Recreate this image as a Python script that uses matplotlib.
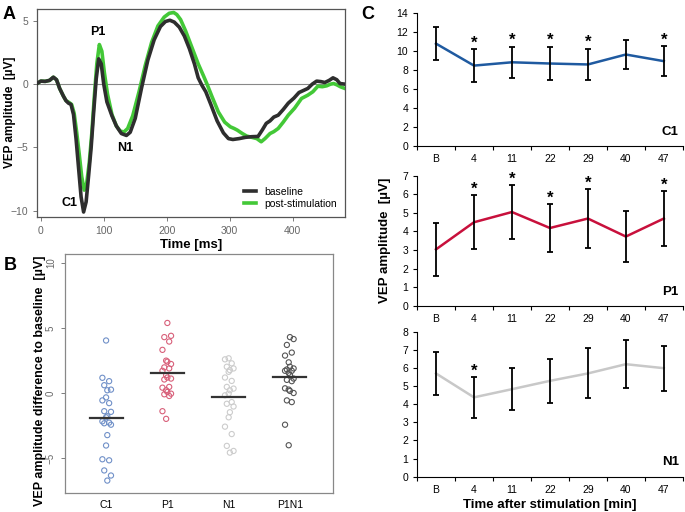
import numpy as np
import matplotlib
matplotlib.use('Agg')
import matplotlib.pyplot as plt

plt.rcParams['font.family'] = ['Liberation Sans', 'DejaVu Sans']

# panel A - grand average traces
base_t = [-6, 0, 7, 14, 20, 25, 30, 36, 40, 44, 48, 52, 56, 60, 64, 68, 72, 76, 80, 84, 88, 92, 96,
          100, 105, 113, 120, 128, 136, 142, 150, 160, 170, 180, 190, 198, 205, 212, 220, 228, 236,
          244, 250, 256, 262, 270, 280, 290, 298, 305, 315, 325, 335, 345, 352, 358, 364, 370, 377,
          385, 393, 402, 410, 417, 424, 431, 438, 445, 451, 458, 464, 470, 475, 483]
base_v = [0.05, 0.24, 0.22, 0.3, 0.55, 0.35, -0.34, -0.95, -1.3, -1.5, -1.6, -2.4, -4.3, -6.6, -8.9,
          -10.1, -9.3, -7.2, -5.0, -2.2, 0.4, 2.0, 1.6, 0.0, -1.4, -2.5, -3.3, -3.9, -4.05, -3.8,
          -2.7, -0.3, 1.9, 3.5, 4.55, 4.95, 5.05, 4.9, 4.5, 3.8, 2.8, 1.6, 0.5, -0.1, -0.6, -1.6,
          -2.9, -3.85, -4.3, -4.37, -4.3, -4.2, -4.15, -4.13, -3.6, -3.1, -2.9, -2.6, -2.45, -2.0,
          -1.5, -1.1, -0.66, -0.5, -0.34, 0.0, 0.24, 0.2, 0.13, 0.3, 0.5, 0.35, 0.05, 0.0]
post_t = [-6, 0, 7, 14, 20, 25, 30, 36, 40, 45, 49, 53, 57, 61, 65, 69, 73, 77, 81, 85, 89, 93, 97,
          101, 106, 113, 120, 126, 132, 138, 146, 156, 166, 176, 186, 196, 204, 211, 216, 222, 230,
          240, 250, 258, 264, 272, 282, 292, 301, 307, 312, 320, 327, 335, 343, 350, 356, 364, 370,
          377, 385, 393, 403, 414, 424, 432, 440, 447, 454, 460, 465, 470, 476, 483]
post_v = [0.05, 0.24, 0.22, 0.3, 0.55, 0.35, -0.34, -0.95, -1.3, -1.45, -1.6, -2.3, -3.8, -5.5, -7.3,
          -8.37, -7.8, -6.2, -3.9, -1.0, 1.6, 3.13, 2.6, 0.9, -0.8, -2.4, -3.3, -3.7, -3.78, -3.5,
          -2.5, -0.6, 1.5, 3.3, 4.6, 5.3, 5.6, 5.66, 5.5, 5.1, 4.2, 2.9, 1.6, 0.7, 0.0, -1.0, -2.2,
          -3.0, -3.37, -3.5, -3.63, -3.9, -4.1, -4.2, -4.3, -4.55, -4.3, -3.9, -3.75, -3.5, -3.0,
          -2.45, -1.9, -1.13, -0.87, -0.6, -0.16, -0.2, -0.13, 0.0, 0.05, -0.05, -0.21, -0.34]

# panel B - change from baseline per subject
comp_names = ['C1', 'P1', 'N1', 'P1N1']
diff_c1 = [4.04, 1.17, 0.91, 0.60, 0.26, 0.21, -0.34, -0.57, -0.78, -1.40, -1.45, -1.79, -1.87,
           -2.18, -2.28, -2.33, -2.44, -3.24, -4.04, -5.10, -5.18, -5.96, -6.35, -6.74]
diff_p1 = [5.39, 4.40, 4.30, 3.96, 3.32, 2.49, 2.41, 2.23, 1.97, 1.89, 1.71, 1.37, 1.19, 1.11,
           1.04, 0.47, 0.41, 0.21, 0.08, -0.05, -0.10, -0.23, -1.40, -1.99]
diff_n1 = [2.67, 2.59, 2.28, 2.02, 1.89, 1.76, 1.63, 1.19, 0.93, 0.47, 0.34, 0.21, -0.05, -0.18,
           -0.70, -0.83, -1.04, -1.48, -1.87, -2.59, -3.16, -4.07, -4.46, -4.59]
diff_p1n1 = [4.30, 4.15, 3.70, 3.11, 2.88, 2.36, 2.02, 1.89, 1.81, 1.71, 1.71, 1.55, 1.37, 1.11,
             1.01, 0.91, 0.36, 0.26, 0.16, 0.00, -0.57, -0.70, -2.44, -4.02]

# panel C - time course (mean, sd)
time_labels = ['B', '4', '11', '22', '29', '40', '47']
c1_mean = [10.8, 8.48, 8.83, 8.7, 8.6, 9.65, 8.95]
c1_err = [1.78, 1.72, 1.64, 1.76, 1.67, 1.58, 1.55]
c1_sig = [False, True, True, True, True, False, True]
p1_mean = [3.03, 4.49, 5.04, 4.18, 4.69, 3.72, 4.69]
p1_err = [1.44, 1.45, 1.43, 1.29, 1.57, 1.39, 1.47]
p1_sig = [False, True, True, True, True, False, True]
n1_mean = [5.7, 4.38, 4.83, 5.29, 5.7, 6.21, 5.99]
n1_err = [1.2, 1.13, 1.15, 1.2, 1.38, 1.31, 1.24]
n1_sig = [False, True, False, False, False, False, False]

GREEN = '#43c837'
DARK = '#2e2e2e'

fig = plt.figure(figsize=(6.85, 5.12), dpi=100)

# ---------- A ----------
axA = fig.add_axes([0.054, 0.576, 0.4496, 0.406])
axA.axhline(0, color='#888888', lw=0.8, zorder=1)
axA.plot(base_t, base_v, color=DARK, lw=2.6, label='baseline', solid_joinstyle='round', zorder=3)
axA.plot(post_t, post_v, color=GREEN, lw=2.6, label='post-stimulation', solid_joinstyle='round', zorder=2)
axA.set_xlim(-6, 483)
axA.set_ylim(-10.5, 5.92)
axA.set_xticks([0, 100, 200, 300, 400])
axA.set_yticks([-10, -5, 0, 5])
axA.tick_params(labelsize=7.5, colors='#666666', length=3, width=0.6)
for s in axA.spines.values():
    s.set_color('#555555')
    s.set_linewidth(0.9)
axA.set_xlabel('Time [ms]', fontsize=9.5, fontweight='bold', labelpad=2)
fig.text(0.014, 0.78, 'VEP amplitude  [µV]', fontsize=8.5, fontweight='bold',
         rotation=90, ha='center', va='center')
axA.text(91, 4.1, 'P1', fontsize=9, fontweight='bold', ha='center', va='center')
axA.text(46, -9.4, 'C1', fontsize=9, fontweight='bold', ha='center', va='center')
axA.text(134, -5.05, 'N1', fontsize=9, fontweight='bold', ha='center', va='center')
axA.legend(loc='lower right', bbox_to_anchor=(1.0, 0.0), frameon=False, fontsize=7.5,
           handlelength=1.1, handletextpad=0.8, labelspacing=0.2, borderaxespad=0.4)
fig.text(0.004, 0.972, 'A', fontsize=13, fontweight='bold', va='center')

# ---------- B ----------
axB = fig.add_axes([0.0949, 0.037, 0.391, 0.467])
b_colors = ['#7090c8', '#d8607a', '#cccccc', '#555555']
b_data = [diff_c1, diff_p1, diff_n1, diff_p1n1]
jit = np.tile([0.0, -0.06, 0.05, -0.03, 0.08, 0.02], 4)
for i, (vals, col) in enumerate(zip(b_data, b_colors)):
    xs = np.full(len(vals), i + 1.0) + jit[:len(vals)] * (1 if i % 2 == 0 else -1)
    axB.scatter(xs, vals, s=14, facecolors='none', edgecolors=col, linewidths=0.8, zorder=2)
    m = np.mean(vals)
    axB.plot([i + 1 - 0.27, i + 1 + 0.27], [m, m], color='#333333', lw=1.6, zorder=3)
axB.set_xlim(0.33, 4.7)
axB.set_ylim(-7.7, 10.7)
axB.set_xticks([1, 2, 3, 4])
axB.set_xticklabels(comp_names)
axB.set_yticks([-5, 0, 5, 10])
axB.tick_params(axis='x', length=0, labelsize=7.5, pad=5)
axB.tick_params(axis='y', length=3, labelsize=7, colors='#666666', width=0.6)
for lbl in axB.get_yticklabels():
    lbl.set_rotation(90)
    lbl.set_va('center')
for s in axB.spines.values():
    s.set_color('#888888')
    s.set_linewidth(0.9)
fig.text(0.058, 0.256, 'VEP amplitude difference to baseline  [µV]', fontsize=9,
         fontweight='bold', rotation=90, ha='center', va='center')
fig.text(0.006, 0.482, 'B', fontsize=13, fontweight='bold', va='center')

# ---------- C ----------
def time_panel(rect, means, errs, sig, color, ymax, name):
    ax = fig.add_axes(rect)
    x = np.arange(len(means))
    ax.plot(x, means, color=color, lw=1.8, zorder=2)
    ax.errorbar(x, means, yerr=errs, fmt='none', ecolor='black', elinewidth=1.3,
                capsize=2.5, capthick=1.3, zorder=3)
    for xi, m, e, s in zip(x, means, errs, sig):
        if s:
            ax.text(xi, m + e - 0.01 * ymax, '*', fontsize=12, fontweight='bold',
                    ha='center', va='bottom')
    ax.set_xlim(-0.5, 6.5)
    ax.set_ylim(0, ymax)
    ax.set_yticks(np.arange(0, ymax + 1, 2 if ymax > 10 else 1))
    ax.set_xticks(x)
    ax.set_xticklabels(time_labels)
    ax.set_xticks(np.arange(-0.5, 7.0, 1.0), minor=True)
    ax.tick_params(axis='x', which='major', length=0, labelsize=7.5, pad=6)
    ax.tick_params(axis='x', which='minor', length=3, width=0.8)
    ax.tick_params(axis='y', length=3, width=0.8, labelsize=7.5)
    ax.spines['top'].set_visible(False)
    ax.spines['right'].set_visible(False)
    ax.text(0.985, 0.06, name, transform=ax.transAxes, fontsize=9.5, fontweight='bold',
            ha='right', va='bottom')
    return ax

time_panel([0.6088, 0.715, 0.388, 0.259], c1_mean, c1_err, c1_sig, '#1f5aa0', 14, 'C1')
axP = time_panel([0.6088, 0.403, 0.388, 0.254], p1_mean, p1_err, p1_sig, '#c8103c', 7, 'P1')
axN = time_panel([0.6088, 0.069, 0.388, 0.283], n1_mean, n1_err, n1_sig, '#c8c8c8', 8, 'N1')
axP.set_ylabel('VEP amplitude  [µV]', fontsize=9.5, fontweight='bold', labelpad=8)
axN.set_xlabel('Time after stimulation [min]', fontsize=9.5, fontweight='bold', labelpad=3)
fig.text(0.528, 0.972, 'C', fontsize=13, fontweight='bold', va='center')

fig.savefig('out.png', dpi=100)
